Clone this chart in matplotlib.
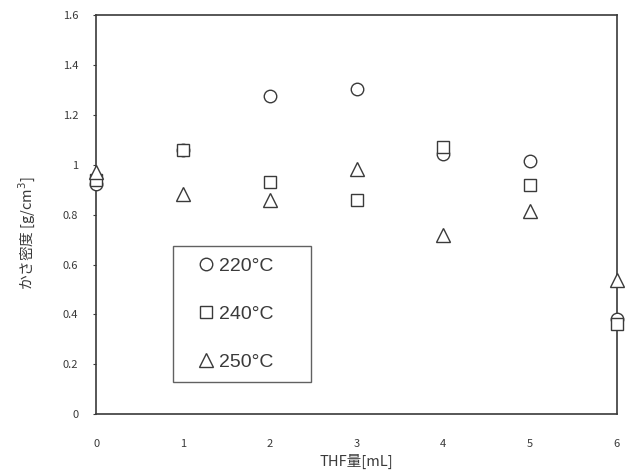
import matplotlib
matplotlib.use("Agg")
import matplotlib.pyplot as plt

plt.rcParams['font.family'] = ['Noto Sans CJK JP', 'DejaVu Sans']

# THF amount [mL]
thf = [0, 1, 2, 3, 4, 5, 6]
# bulk density [g/cm3] per treatment temperature
d220 = [0.925, 1.06, 1.275, 1.305, 1.045, 1.015, 0.38]
d240 = [0.94, 1.06, 0.93, 0.86, 1.07, 0.92, 0.36]
d250 = [0.97, 0.885, 0.86, 0.985, 0.72, 0.815, 0.54]
labels = ['220°C', '240°C', '250°C']

ink = '#3a3a3a'
fig = plt.figure(figsize=(6.25, 4.75), dpi=100)
ax = fig.add_axes([0.154, 0.128, 0.833, 0.84])

style = dict(linestyle='none', markerfacecolor='white', markeredgecolor=ink,
             markeredgewidth=1.0, clip_on=False, zorder=5)
ax.plot(thf, d220, marker='o', markersize=9, label=labels[0], **style)
ax.plot(thf, d240, marker='s', markersize=8.5, label=labels[1], **style)
ax.plot(thf, d250, marker='^', markersize=9.5, label=labels[2], **style)

ax.set_xlim(0, 6)
ax.set_ylim(0, 1.6)
ax.set_xticks(range(7))
ax.set_yticks([0, 0.2, 0.4, 0.6, 0.8, 1, 1.2, 1.4, 1.6])
ax.set_yticklabels(['0', '0.2', '0.4', '0.6', '0.8', '1', '1.2', '1.4', '1.6'])
ax.tick_params(axis='both', labelsize=8, colors=ink, length=2, width=0.8)
ax.tick_params(axis='x', length=0, pad=18)
ax.tick_params(axis='y', pad=11)
for s in ax.spines.values():
    s.set_color(ink)
    s.set_linewidth(1.2)

ax.set_xlabel('THF量[mL]', fontsize=10.5, color=ink, labelpad=3)
ax.set_ylabel('かさ密度 [g/cm$^3$]', fontsize=10.5, color=ink)
ax.yaxis.set_label_coords(-0.113, 0.455)

leg = ax.legend(loc='lower left', bbox_to_anchor=(0.148, 0.08, 0.265, 0.341),
                mode='expand', fontsize=14, frameon=True, fancybox=False,
                handlelength=2.2, handletextpad=-0.45, labelspacing=1.55,
                borderpad=0.6, borderaxespad=0, markerscale=1.0)
leg.get_frame().set_edgecolor(ink)
leg.get_frame().set_linewidth(1.0)
for t in leg.get_texts():
    t.set_color(ink)
    t.set_family(['Liberation Sans', 'DejaVu Sans'])

fig.savefig('out.png', dpi=100)
